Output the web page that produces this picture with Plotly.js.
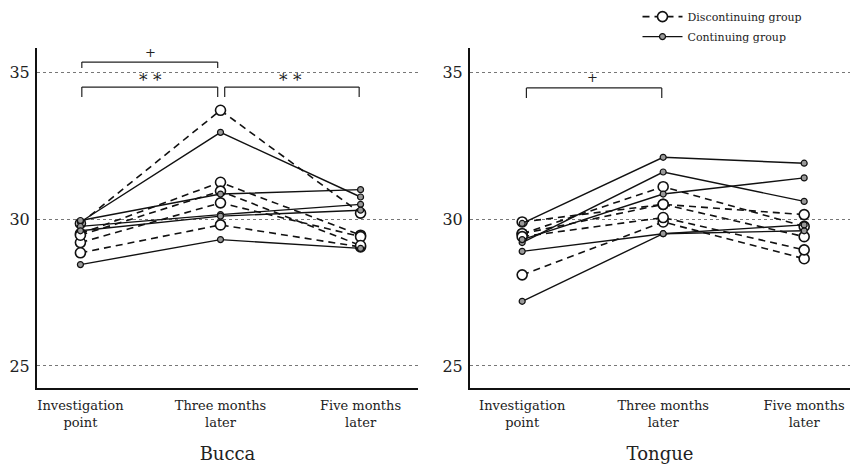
<!DOCTYPE html>
<html>
<head>
<meta charset="utf-8">
<script src="https://cdn.plot.ly/plotly-3.0.1.min.js"></script>
<style>html,body{margin:0;padding:0;background:#fff;}#chart{width:850px;height:464px;}</style>
</head>
<body>
<div id="chart"></div>
<script>
// Categories (time points)
const timePoints = ['Investigation<br>point', 'Three months<br>later', 'Five months<br>later'];
const yTicks = [25, 30, 35];

// Bucca — continuing group (solid)
const buccaContinuing = [
  [28.45, 29.3, 29.0],
  [29.9, 32.95, 30.75],
  [29.95, 30.85, 31.0],
  [29.75, 30.15, 30.5],
  [29.6, 30.1, 30.3]
];
// Bucca — discontinuing group (dashed)
const buccaDiscontinuing = [
  [29.85, 33.7, 30.2],
  [29.5, 31.25, 29.45],
  [29.2, 30.55, 29.4],
  [28.85, 29.8, 29.05],
  [29.45, 30.95, 29.1]
];
// Tongue — continuing group (solid)
const tongueContinuing = [
  [27.2, 29.5, 29.6],
  [28.9, 29.5, 29.8],
  [29.85, 32.1, 31.9],
  [29.2, 31.6, 30.6],
  [29.3, 30.85, 31.4]
];
// Tongue — discontinuing group (dashed)
const tongueDiscontinuing = [
  [28.1, 29.9, 28.65],
  [29.9, 30.5, 30.15],
  [29.5, 31.1, 29.75],
  [29.5, 30.5, 29.4],
  [29.4, 30.05, 28.95]
];

const SERIF = '"DejaVu Serif", "Liberation Serif", serif';
const traces = [];
let legendDone = {cont: false, disc: false};

function addGroup(data, xa, ya, kind) {
  data.forEach(vals => {
    const isDisc = kind === 'disc';
    traces.push({
      type: 'scatter', mode: 'lines+markers',
      x: timePoints, y: vals, xaxis: xa, yaxis: ya,
      name: isDisc ? 'Discontinuing group' : 'Continuing group',
      legendgroup: kind,
      showlegend: !legendDone[kind],
      line: isDisc ? {color: '#111', width: 1.6, dash: '7px,5px'} : {color: '#111', width: 1.4},
      marker: isDisc
        ? {symbol: 'circle', size: 10, color: '#fff', line: {color: '#111', width: 1.6}}
        : {symbol: 'circle', size: 6, color: '#999', line: {color: '#111', width: 1.2}},
      hoverinfo: 'y'
    });
    legendDone[kind] = true;
  });
}
addGroup(buccaDiscontinuing, 'x', 'y', 'disc');
addGroup(buccaContinuing, 'x', 'y', 'cont');
addGroup(tongueDiscontinuing, 'x2', 'y2', 'disc');
addGroup(tongueContinuing, 'x2', 'y2', 'cont');

const yRange = [24.25, 35.82];
const yaxisBase = {
  range: yRange, tickvals: yTicks, ticks: '', showgrid: true,
  gridcolor: '#777', griddash: 'dot', gridwidth: 1,
  zeroline: false, showline: true, linecolor: '#111', linewidth: 2,
  tickfont: {family: SERIF, size: 16, color: '#222'}, ticklabelstandoff: 2
};
const xaxisBase = {
  type: 'category', categoryorder: 'array', categoryarray: timePoints,
  showgrid: false, zeroline: false, showline: true, linecolor: '#111', linewidth: 2,
  ticks: '', tickfont: {family: SERIF, size: 13, color: '#222'}, ticklabelstandoff: 4
};

function bracket(xref, yref, x0, x1, yTop, yBot) {
  const s = {type: 'line', xref: xref, yref: yref, line: {color: '#222', width: 1.2}};
  return [
    Object.assign({}, s, {x0: x0, x1: x1, y0: yTop, y1: yTop}),
    Object.assign({}, s, {x0: x0, x1: x0, y0: yTop, y1: yBot}),
    Object.assign({}, s, {x0: x1, x1: x1, y0: yTop, y1: yBot})
  ];
}

const shapes = [].concat(
  bracket('x', 'y', 0.01, 0.98, 35.34, 35.14),
  bracket('x', 'y', 0.01, 0.98, 34.49, 34.15),
  bracket('x', 'y', 1.03, 1.99, 34.49, 34.15),
  bracket('x2', 'y2', 0.03, 0.99, 34.46, 34.12)
);

const annFont = {family: SERIF, size: 13, color: '#222'};
const starFont = {family: SERIF, size: 17, color: '#222'};
const annotations = [
  {xref: 'x', yref: 'y', x: 0.5, y: 35.36, text: '+', showarrow: false, yanchor: 'bottom', font: annFont},
  {xref: 'x', yref: 'y', x: 0.5, y: 34.73, text: '* *', showarrow: false, yanchor: 'middle', font: starFont},
  {xref: 'x', yref: 'y', x: 1.5, y: 34.73, text: '* *', showarrow: false, yanchor: 'middle', font: starFont},
  {xref: 'x2', yref: 'y2', x: 0.5, y: 34.48, text: '+', showarrow: false, yanchor: 'bottom', font: annFont}
];

const layout = {
  width: 850, height: 464,
  margin: {l: 0, r: 0, t: 48, b: 76},
  paper_bgcolor: '#fff', plot_bgcolor: '#fff',
  showlegend: true,
  legend: {x: 0.75, y: 1.135, xanchor: 'left', yanchor: 'top', bgcolor: 'rgba(0,0,0,0)',
           font: {family: SERIF, size: 11, color: '#222'}, tracegroupgap: 1, itemwidth: 40,
           traceorder: 'grouped'},
  xaxis: Object.assign({}, xaxisBase, {domain: [37/850, 418/850], range: [-0.31, 2.41], anchor: 'y',
          title: {text: 'Bucca', font: {family: SERIF, size: 18, color: '#222'}, standoff: 20}}),
  yaxis: Object.assign({}, yaxisBase, {anchor: 'x'}),
  xaxis2: Object.assign({}, xaxisBase, {domain: [470/850, 1], range: [-0.37, 2.325], anchor: 'y2',
          title: {text: 'Tongue', font: {family: SERIF, size: 18, color: '#222'}, standoff: 20}}),
  yaxis2: Object.assign({}, yaxisBase, {anchor: 'x2'}),
  shapes: shapes,
  annotations: annotations
};

Plotly.newPlot('chart', traces, layout, {displayModeBar: false, staticPlot: true});
</script>
</body>
</html>
